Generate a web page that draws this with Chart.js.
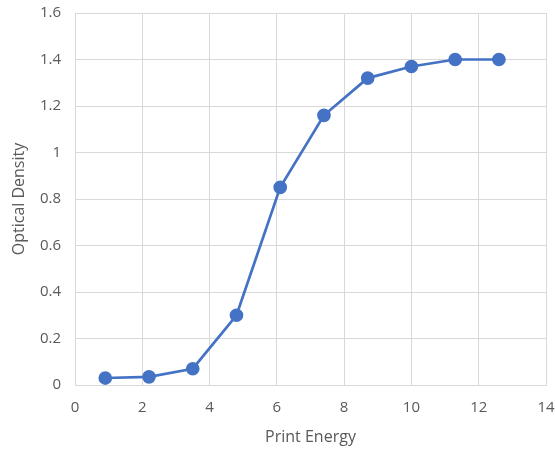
<!DOCTYPE html>
<html>
<head>
<meta charset="utf-8">
<script src="https://cdn.jsdelivr.net/npm/chart.js@4/dist/chart.umd.min.js"></script>
<style>
  html, body { margin: 0; padding: 0; background: #fff; }
  #wrap { width: 555px; height: 451px; }
</style>
</head>
<body>
<div id="wrap"><canvas id="chart" width="555" height="451"></canvas></div>
<script>
// values
var printEnergy = [0.9, 2.2, 3.5, 4.8, 6.1, 7.4, 8.7, 10, 11.3, 12.6];
var opticalDensity = [0.03, 0.035, 0.07, 0.3, 0.85, 1.16, 1.32, 1.37, 1.4, 1.4];
var xTitle = 'Print Energy';
var yTitle = 'Optical Density';

var points = [];
for (var i = 0; i < printEnergy.length; i++) {
    points.push({ x: printEnergy[i], y: opticalDensity[i] });
}

var textColor = '#595959';
var gridColor = '#d9d9d9';
var blue = '#4472c4';

var ctx = document.getElementById('chart').getContext('2d');
var myChart = new Chart(ctx, {
    type: 'scatter',
    data: {
        datasets: [{
            label: yTitle,
            data: points,
            showLine: true,
            borderColor: blue,
            backgroundColor: blue,
            borderWidth: 2.7,
            pointRadius: 5.5,
            pointHoverRadius: 5.5
        }]
    },
    options: {
        responsive: false,
        animation: false,
        layout: { padding: { top: 13, right: 9, left: 0, bottom: 0 } },
        plugins: {
            legend: { display: false },
            tooltip: { enabled: false }
        },
        scales: {
            x: {
                type: 'linear',
                min: 0,
                max: 14,
                ticks: { stepSize: 2, color: textColor, padding: 14, font: { family: 'Open Sans', size: 15 } },
                grid: { color: gridColor, drawTicks: false },
                border: { color: gridColor },
                title: { display: true, text: xTitle, color: textColor, padding: { top: 2 }, font: { family: 'Open Sans', size: 16 } },
                afterFit: function (scale) {
                    scale.height = 66;
                    scale.paddingLeft = 0;
                    scale.paddingRight = 0;
                }
            },
            y: {
                min: 0,
                max: 1.6,
                ticks: {
                    stepSize: 0.2, color: textColor, padding: 14, font: { family: 'Open Sans', size: 15 },
                    callback: function (v) { return String(Math.round(v * 10) / 10); }
                },
                grid: { color: gridColor, drawTicks: false },
                border: { color: gridColor },
                title: { display: true, text: yTitle, color: textColor, padding: { top: 10, bottom: 0 }, font: { family: 'Open Sans', size: 16 } },
                afterFit: function (scale) {
                    scale.width = 75;
                    scale.paddingTop = 0;
                    scale.paddingBottom = 0;
                }
            }
        }
    }
});
</script>
</body>
</html>
